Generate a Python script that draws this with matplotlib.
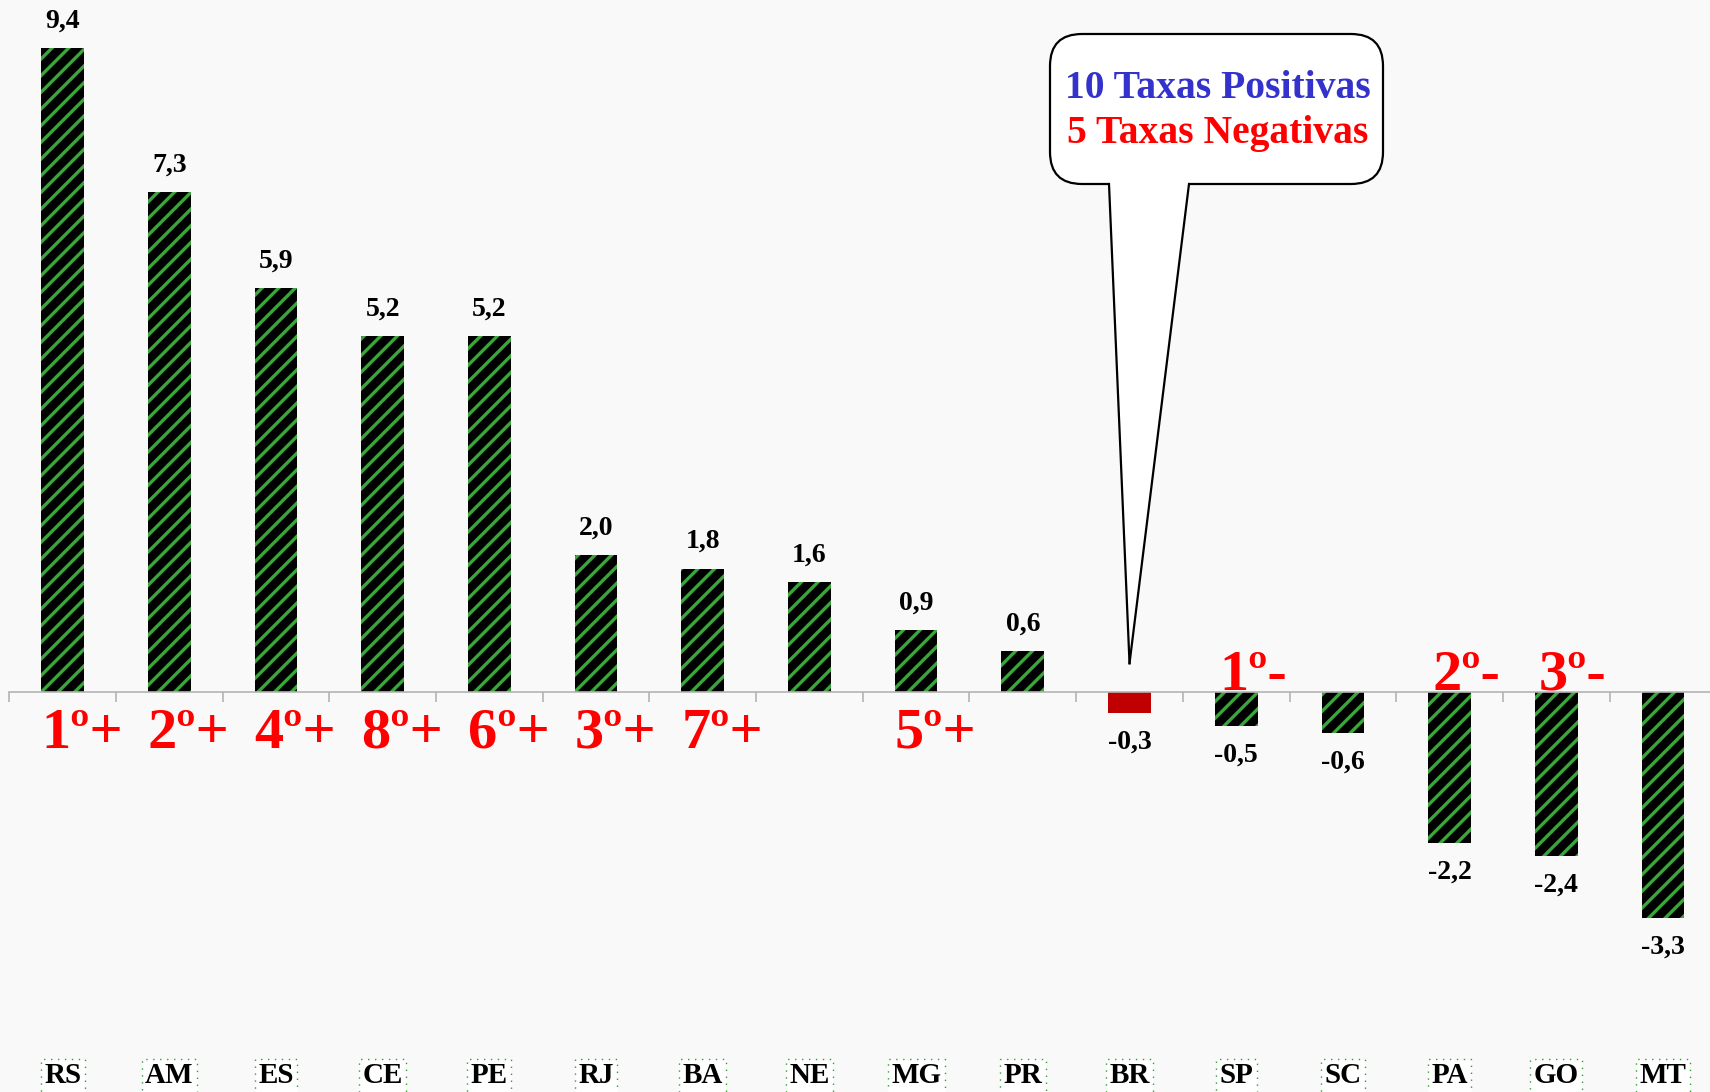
import numpy as np
import matplotlib
matplotlib.use("Agg")
import matplotlib.pyplot as plt
from matplotlib.patches import FancyBboxPatch, Polygon
from matplotlib.lines import Line2D
import matplotlib.transforms as mtransforms

# dados
estados = ["RS", "AM", "ES", "CE", "PE", "RJ", "BA", "NE", "MG", "PR",
           "BR", "SP", "SC", "PA", "GO", "MT"]
taxas = [9.4, 7.3, 5.9, 5.2, 5.2, 2.0, 1.8, 1.6, 0.9, 0.6,
         -0.3, -0.5, -0.6, -2.2, -2.4, -3.3]
ranking = ["1º+", "2º+", "4º+", "8º+", "6º+", "3º+", "7º+", "", "5º+", "",
           "", "1º-", "", "2º-", "3º-", ""]
destaque = "BR"

plt.rcParams['font.family'] = ['Liberation Serif', 'DejaVu Serif']
plt.rcParams['hatch.linewidth'] = 2.4

fundo = "#f9f9f9"
fig = plt.figure(figsize=(17.1, 10.92), dpi=100, facecolor=fundo)
ax = fig.add_axes([9.3 / 1710, 0, 1707 / 1710, 1])
ax.set_facecolor(fundo)

largura = 0.40
for i, (uf, v) in enumerate(zip(estados, taxas)):
    if uf == destaque:
        ax.bar(i, v, width=largura, color="#c00000", linewidth=0, zorder=2)
    else:
        ax.bar(i, v, width=largura, facecolor="black", edgecolor="#3aa53a",
               hatch="//", linewidth=0, zorder=2)

ax.set_xlim(-0.5, len(estados) - 0.5)
ax.set_ylim(-(1092 - 692) / 68.5, 692 / 68.5)

# eixo no zero com marcas entre categorias
for s in ["top", "right", "left"]:
    ax.spines[s].set_visible(False)
ax.spines["bottom"].set_position(("data", 0))
ax.spines["bottom"].set_color("#b4b4b4")
ax.spines["bottom"].set_linewidth(1.2)
ax.spines["bottom"].set_zorder(3)
ax.set_xticks(np.arange(len(estados) + 1) - 0.5)
ax.set_xticklabels([])
ax.tick_params(axis="x", direction="out", length=7, width=1.2, color="#b4b4b4")
ax.set_yticks([])

# rótulos dos valores
for i, v in enumerate(taxas):
    txt = f"{v:.1f}".replace(".", ",")
    off = 19.5 if v >= 0 else -21
    ax.annotate(txt, (i, v), xytext=(0, off), textcoords="offset points",
                ha="center", va="center", fontsize=20, fontweight="bold")

# ranking
for i, (r, v) in enumerate(zip(ranking, taxas)):
    if not r:
        continue
    if v >= 0:
        ax.annotate(r, (i - largura / 2, 0), xytext=(0, -30),
                    textcoords="offset points", ha="left", va="center",
                    fontsize=42, fontweight="bold", color="#ff0000")
    else:
        ax.annotate(r, (i - largura / 2, 0), xytext=(3, 1.5),
                    textcoords="offset points", ha="left", va="baseline",
                    fontsize=42, fontweight="bold", color="#ff0000")

# nomes das categorias
trans = mtransforms.blended_transform_factory(ax.transData, ax.transAxes)
for i, uf in enumerate(estados):
    ax.text(i, 0.015, uf, transform=trans, ha="center", va="center",
            fontsize=21, fontweight="bold",
            bbox=dict(boxstyle="square,pad=0.12", fc="white",
                      ec="#2ca02c", ls=(0, (1, 4)), lw=1.0))

# balão
inch = fig.dpi_scale_trans
bx0, by0, bw, bh = 10.50, 9.08, 3.33, 1.50
caixa = FancyBboxPatch((bx0, by0), bw, bh, boxstyle="round,pad=0,rounding_size=0.32",
                       transform=inch, fc="white", ec="black", lw=1.6, zorder=5)
fig.add_artist(caixa)
ponta = inch.inverted().transform(ax.transData.transform((estados.index(destaque), 0.42)))
base_e, base_d = 11.09, 11.89
cauda = Polygon([(base_e, by0 + 0.03), (base_d, by0 + 0.03), tuple(ponta)],
                closed=True, transform=inch, fc="white", ec="none", zorder=6)
fig.add_artist(cauda)
for bxs in (base_e, base_d):
    fig.add_artist(Line2D([bxs, ponta[0]], [by0, ponta[1]], transform=inch,
                          color="black", lw=1.6, zorder=7))

fig.text(1218 / 1710, 1 - 88 / 1092, "10 Taxas Positivas", ha="center", va="center",
         fontsize=28.5, fontweight="bold", color="#3333cc", zorder=8)
fig.text(1218 / 1710, 1 - 134 / 1092, "5 Taxas Negativas", ha="center", va="center",
         fontsize=28.5, fontweight="bold", color="#ff0000", zorder=8)

fig.savefig("out.png", dpi=100, facecolor=fundo)
